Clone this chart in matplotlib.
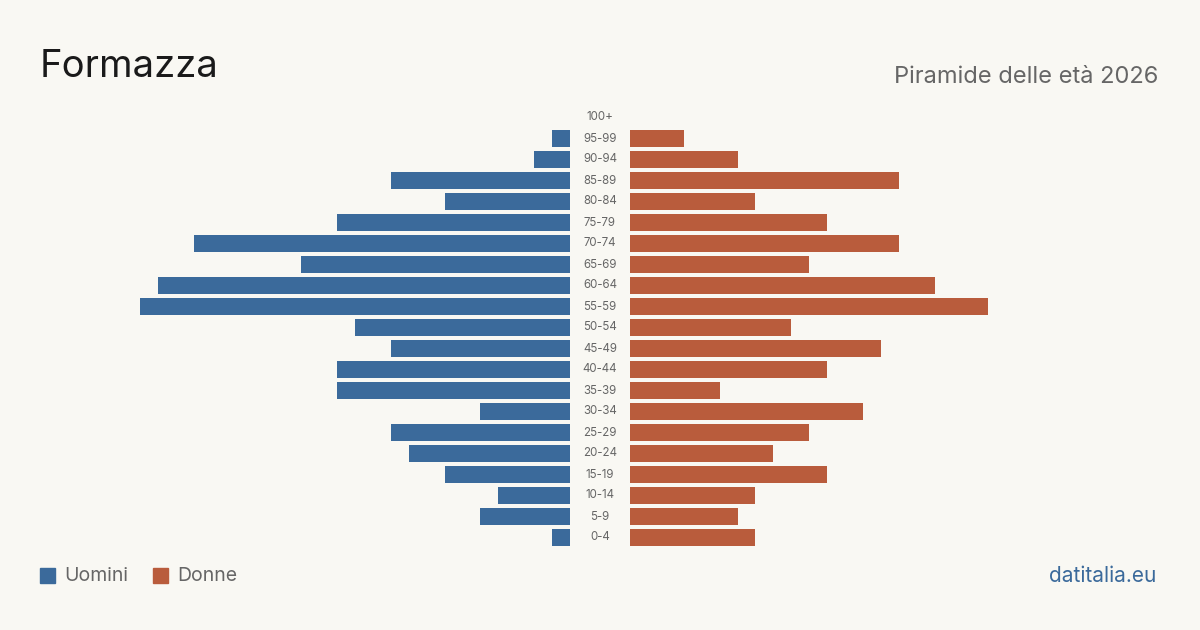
import matplotlib.pyplot as plt

plt.rcParams['font.family'] = ['Inter', 'DejaVu Sans']

eta = ['0-4', '5-9', '10-14', '15-19', '20-24', '25-29', '30-34', '35-39', '40-44',
       '45-49', '50-54', '55-59', '60-64', '65-69', '70-74', '75-79', '80-84',
       '85-89', '90-94', '95-99', '100+']
uomini = [1, 5, 4, 7, 9, 10, 5, 13, 13, 10, 12, 24, 23, 15, 21, 13, 7, 10, 2, 1, 0]
donne = [7, 6, 7, 11, 8, 10, 13, 5, 11, 14, 9, 20, 17, 10, 15, 11, 7, 15, 6, 3, 0]

bg = '#f9f8f3'
blu = '#3b6a9b'
rosso = '#b95c3c'
grigio = '#666666'

fig = plt.figure(figsize=(12, 6.3), dpi=100, facecolor=bg)
W, H = 1200, 630

# left axes 140..570 px, right axes 630..1060 px, rows from y=107 to 548
bottom = 1 - 548 / H
height = 441 / H
axl = fig.add_axes([140 / W, bottom, 430 / W, height])
axr = fig.add_axes([630 / W, bottom, 430 / W, height])

y = list(range(len(eta)))
axl.barh(y, uomini, height=0.8, color=blu)
axr.barh(y, donne, height=0.8, color=rosso)
axl.set_xlim(24, 0)
axr.set_xlim(0, 24)
for ax in (axl, axr):
    ax.set_ylim(-0.5, len(eta) - 0.5)
    ax.axis('off')

for i, lab in enumerate(eta):
    axr.annotate(lab, xy=(0, i), xytext=(-30, 0), textcoords='offset pixels',
                 ha='center', va='center', fontsize=8.3, color=grigio)

fig.text(40 / W, 1 - 67 / H, 'Formazza', fontsize=27.5, color='#1a1a1a', va='center', ha='left')
fig.text(1158 / W, 1 - 77 / H, 'Piramide delle età 2026', fontsize=17, color=grigio,
         va='center', ha='right')

# legend
fig.patches.append(plt.Rectangle((40 / W, 1 - 583 / H), 15 / W, 15 / H,
                                 transform=fig.transFigure, color=blu))
fig.text(64 / W, 1 - 576 / H, 'Uomini', fontsize=14, color=grigio, va='center', ha='left')
fig.patches.append(plt.Rectangle((153 / W, 1 - 583 / H), 15 / W, 15 / H,
                                 transform=fig.transFigure, color=rosso))
fig.text(177 / W, 1 - 576 / H, 'Donne', fontsize=14, color=grigio, va='center', ha='left')

fig.text(1156 / W, 1 - 576 / H, 'datitalia.eu', fontsize=15, color=blu, va='center', ha='right')

fig.savefig('out.png', dpi=100, facecolor=bg)
